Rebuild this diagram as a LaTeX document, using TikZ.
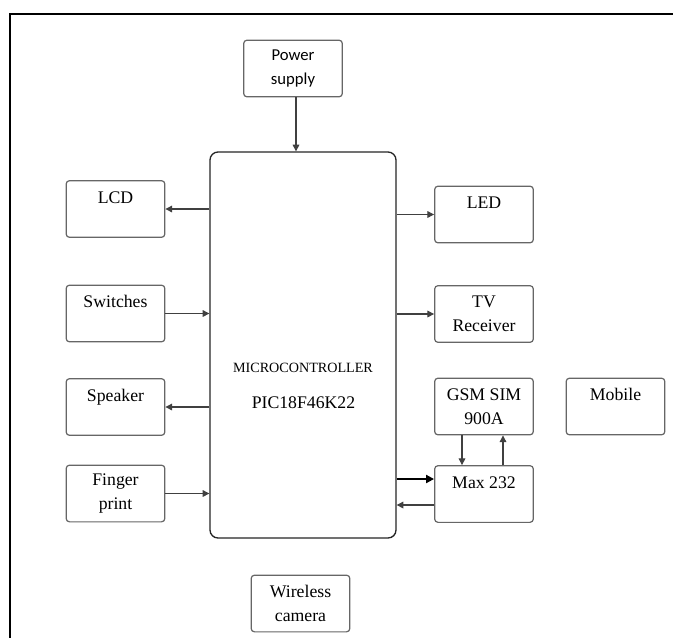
\documentclass[tikz,border=0pt]{standalone}
\usepackage{fontspec}
\setmainfont{Liberation Serif}
\newfontfamily\tnr{Liberation Serif}
\newfontfamily\calfont{Carlito}
\usetikzlibrary{arrows.meta}
\begin{document}
\begin{tikzpicture}[x=0.75pt,y=-0.75pt,
  blk/.style={draw=black!60, line width=0.9pt, rounded corners=2.5pt,
    minimum width=74pt, minimum height=42.5pt, inner sep=0pt,
    font=\tnr\fontsize{13.3}{18}\selectfont, align=center},
  toptext/.style={label={[anchor=base,yshift=-17.25pt,inner sep=0pt,
    font=\tnr\fontsize{13.3}{18}\selectfont]north:#1}},
  arr/.style={draw=black!75, line width=0.8pt, -{Triangle[length=5pt,width=5pt]}},
  thickarr/.style={draw=black, line width=1.6pt, -{Triangle[length=6pt,width=6pt]}},
  ]
\useasboundingbox (0,0) rectangle (673,637);
\fill[white] (0,0) rectangle (673,637);
\draw[line width=2pt] (10,640) -- (10,14) -- (676,14);

% microcontroller
\node[draw=black!85, line width=1pt, rounded corners=6pt,
  minimum width=139.5pt, minimum height=289.5pt] (mc) at (303,345) {};
\node[font=\tnr\fontsize{10.6}{12}\selectfont, inner sep=0pt] (mct) at (303,368) {MICROCONTROLLER};
\node[font=\tnr\fontsize{13.3}{16}\selectfont, inner sep=0pt] (pic) at (303.5,403) {PIC18F46K22};

% blocks
\node[blk, font=\calfont\fontsize{12.5}{18}\selectfont] (power) at (293,68.5) {Power\\supply};
\node[blk, toptext=LCD] (lcd) at (115.5,209) {};
\node[blk, toptext=Switches] (sw) at (115.5,313.5) {};
\node[blk, toptext=Speaker] (spk) at (115.5,407) {};
\node[blk] (fing) at (115.5,493.5) {Finger\\print};
\node[blk, toptext=LED] (led) at (484,214.5) {};
\node[blk] (tv) at (484,314) {TV\\Receiver};
\node[blk] (gsm) at (484,406.5) {GSM SIM\\900A};
\node[blk, toptext=Mobile] (mob) at (615.5,406.5) {};
\node[blk, toptext=Max 232] (max) at (484,494) {};
\node[blk] (cam) at (300.5,603.5) {Wireless\\camera};

% connectors
\draw[arr] ([xshift=2.25pt]power.south) -- ([xshift=2.25pt]power.south |- mc.north);
\draw[arr] (mc.west |- lcd.east) -- (lcd.east);
\draw[arr] (sw.east) -- (sw.east -| mc.west);
\draw[arr] (mc.west |- spk.east) -- (spk.east);
\draw[arr] (fing.east) -- (fing.east -| mc.west);
\draw[arr] (mc.east |- led.west) -- (led.west);
\draw[arr] (mc.east |- tv.west) -- (tv.west);
\draw[thickarr] ([yshift=11.25pt]mc.east |- max.west) -- ([yshift=11.25pt]max.west);
\draw[arr] ([yshift=-8.25pt]max.west) -- ([yshift=-8.25pt]mc.east |- max.west);
\draw[arr] ([xshift=-16.5pt]gsm.south) -- ([xshift=-16.5pt]gsm.south |- max.north);
\draw[arr] ([xshift=14.25pt]gsm.south |- max.north) -- ([xshift=14.25pt]gsm.south);
\end{tikzpicture}
\end{document}
